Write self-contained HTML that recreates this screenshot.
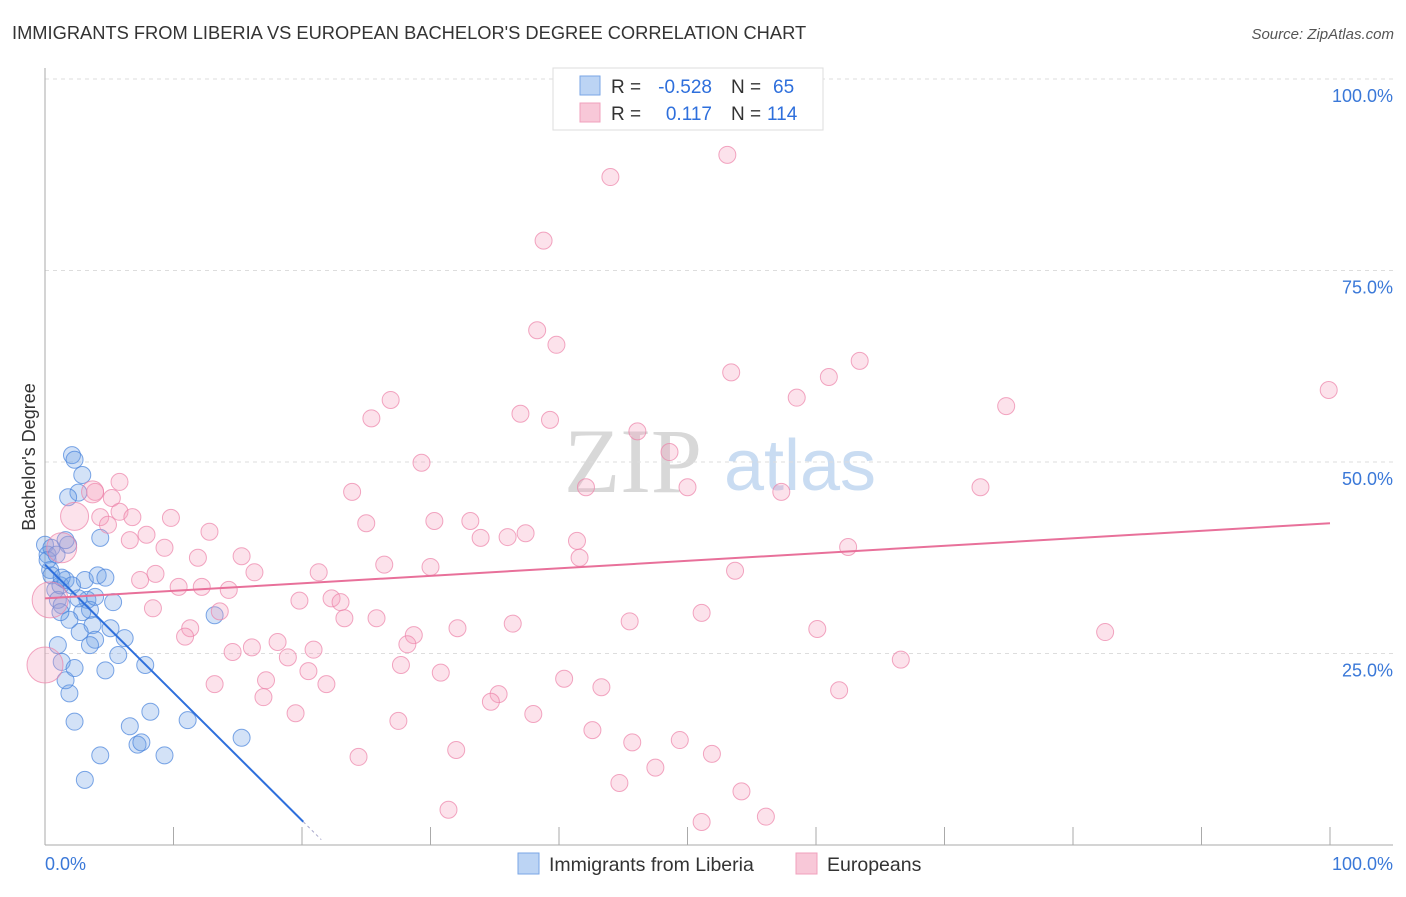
<!DOCTYPE html>
<html><head><meta charset="utf-8"><style>
body{margin:0;background:#fff;font-family:"Liberation Sans",sans-serif;}
svg text{font-family:"Liberation Sans",sans-serif;}
</style></head><body>
<svg width="1406" height="892" xmlns="http://www.w3.org/2000/svg" id="chart">
<text x="12" y="39" font-size="18.3" fill="#333">IMMIGRANTS FROM LIBERIA VS EUROPEAN BACHELOR'S DEGREE CORRELATION CHART</text>
<text x="1394" y="39" font-size="15" fill="#555" text-anchor="end" font-style="italic">Source: ZipAtlas.com</text>
<g>
<text x="633" y="492" font-size="92" fill="#d8d8d8" text-anchor="middle" font-family="Liberation Serif" style="font-family:'Liberation Serif',serif">ZIP</text>
<text x="800" y="490" font-size="72" fill="#c9dcf2" text-anchor="middle">atlas</text>
</g>
<g id="grid"></g>
<g id="axes"></g>
<g id="blue"></g>
<g id="pink"></g>
<g id="lines"></g>
<text x="35" y="457" font-size="18" fill="#333" text-anchor="middle" transform="rotate(-90 35 457)">Bachelor's Degree</text>
<g>
<rect x="553" y="68" width="270" height="62" fill="#fff" stroke="#ddd"/>
<rect x="580" y="76" width="20" height="19" fill="#bcd4f4" stroke="#7aa6e6"/>
<rect x="580" y="103" width="20" height="19" fill="#f8c8d8" stroke="#f0a0bd"/>
<text x="611" y="93" font-size="19" fill="#333">R =</text>
<text x="712" y="93" font-size="19" fill="#2e6fdc" text-anchor="end">-0.528</text>
<text x="731" y="93" font-size="19" fill="#333">N =</text>
<text x="773" y="93" font-size="19" fill="#2e6fdc">65</text>
<text x="611" y="120" font-size="19" fill="#333">R =</text>
<text x="712" y="120" font-size="19" fill="#2e6fdc" text-anchor="end">0.117</text>
<text x="731" y="120" font-size="19" fill="#333">N =</text>
<text x="767" y="120" font-size="19" fill="#2e6fdc">114</text>
</g>
<g>
<rect x="518" y="853" width="21" height="21" fill="#bcd4f4" stroke="#7aa6e6"/>
<text x="549" y="871" font-size="19.5" fill="#333">Immigrants from Liberia</text>
<rect x="796" y="853" width="21" height="21" fill="#f8c8d8" stroke="#f0a0bd"/>
<text x="827" y="871" font-size="19.5" fill="#333">Europeans</text>
</g>
</svg>
<script>
const yTicks=[25,50,75,100];
const yTickLabels=["25.0%","50.0%","75.0%","100.0%"];
const xTickLabels=["0.0%","100.0%"];
const blueX=[0,0.2,0.4,0.5,0.8,1.0,1.2,1.3,1.6,1.8,2.1,2.3,2.6,2.9,3.1,3.3,3.5,3.7,3.9,4.1,4.3,4.7,5.1,5.3,5.7,6.2,6.6,7.2,7.5,7.8,8.2,9.3,11.1,13.2,15.3,4.3,3.1,2.3,1.9,1.6,1.3,1.0,2.7,2.3,3.5,4.7,2.9,1.9,1.2,0.2,0.5,3.9,1.3,2.1,2.6,1.6,0.9,1.8];
const blueY=[39.2,37.9,35.9,35.2,33.3,32.0,33.9,31.3,34.6,39.2,50.9,50.3,46.0,48.3,34.6,32.0,30.7,28.7,26.8,35.2,40.1,34.9,28.3,31.7,24.8,27.0,15.5,13.1,13.4,23.5,17.4,11.7,16.3,30.0,14.0,11.7,8.5,16.1,19.8,21.5,23.9,26.1,27.8,23.1,26.1,22.8,30.4,29.4,30.4,37.2,38.8,32.4,34.9,33.9,32.2,39.8,37.9,45.4];
const pinkX=[53.1,44.0,38.8,38.3,39.8,63.4,53.4,61.0,99.9,58.5,26.9,74.8,37.0,25.4,39.3,46.1,48.6,29.3,42.1,50.0,57.3,72.8,23.9,3.9,5.8,5.2,5.8,4.3,6.8,9.8,4.9,12.8,25.0,30.3,33.1,33.9,36.0,37.4,41.4,62.5,7.9,9.3,6.6,41.6,15.3,11.9,26.4,30.0,53.7,16.3,21.3,8.6,7.4,10.4,12.2,14.3,22.3,23.0,19.8,8.4,13.6,51.1,45.5,23.3,25.8,36.4,32.1,11.3,60.1,82.5,10.9,28.7,28.2,18.1,16.1,14.6,20.9,18.9,27.7,30.8,20.5,17.2,13.2,21.9,40.4,43.3,61.8,66.6,35.3,34.7,17.0,38.0,19.5,27.5,42.6,45.7,49.4,51.9,32.0,24.4,47.5,44.7,54.2,31.4,51.1,56.1,2.3,1.3,0.4,0,3.7];
const pinkY=[90.1,87.2,78.9,67.2,65.3,63.2,61.7,61.1,59.4,58.4,58.1,57.3,56.3,55.7,55.5,54.0,51.3,49.9,46.7,46.7,46.1,46.7,46.1,46.1,47.4,45.3,43.5,42.8,42.8,42.7,41.8,40.9,42.0,42.3,42.3,40.1,40.2,40.7,39.7,38.9,40.5,38.8,39.8,37.5,37.7,37.5,36.6,36.3,35.8,35.6,35.6,35.4,34.6,33.7,33.7,33.3,32.2,31.7,31.9,30.9,30.5,30.3,29.2,29.6,29.6,28.9,28.3,28.3,28.2,27.8,27.2,27.4,26.2,26.5,25.8,25.2,25.5,24.5,23.5,22.5,22.7,21.5,21.0,21.0,21.7,20.6,20.2,24.2,19.7,18.7,19.3,17.1,17.2,16.2,15.0,13.4,13.7,11.9,12.4,11.5,10.1,8.1,7.0,4.6,3.0,3.7,42.9,38.8,32.0,23.5,46.1];
const pinkR=[];pinkX.forEach((_,i)=>pinkR.push(i>=pinkX.length-5?[14,15,18,18,11][i-(pinkX.length-5)]:8.5));
const blueTrend=[36.6,-1.67];
const pinkTrend=[32.2,0.098];
const X0=45,X1=1330,Y0=845,Y100=79;
const sx=v=>X0+(X1-X0)*v/100, sy=v=>Y0-(Y0-Y100)*v/100;
const NS="http://www.w3.org/2000/svg";
function mk(tag,attrs,parent){const e=document.createElementNS(NS,tag);for(const k in attrs)e.setAttribute(k,attrs[k]);parent.appendChild(e);return e;}
const grid=document.getElementById('grid'),axes=document.getElementById('axes');
yTicks.forEach((t,i)=>{
 const g=mk('line',{x1:45,x2:1393,y1:sy(t),y2:sy(t),stroke:'#ddd','stroke-dasharray':'4 4'},grid);
 
 
 const l=mk('text',{x:1393,y:sy(t)+23,'font-size':18,fill:'#3a78d8','text-anchor':'end'},axes);l.textContent=yTickLabels[i];
 
 
});
mk('line',{x1:45,x2:45,y1:68,y2:845,stroke:'#aaa'},axes);
mk('line',{x1:45,x2:1393,y1:845,y2:845,stroke:'#aaa'},axes);
for(let k=1;k<=10;k++){const t=mk('line',{x1:sx(k*10),x2:sx(k*10),y1:827,y2:845,stroke:'#aaa'},axes);
 
 }
const xl0=mk('text',{x:45,y:870,'font-size':18,fill:'#3a78d8'},axes);xl0.textContent=xTickLabels[0];


const xl1=mk('text',{x:1393,y:870,'font-size':18,fill:'#3a78d8','text-anchor':'end'},axes);xl1.textContent=xTickLabels[1];


const bg=document.getElementById('blue'),pg=document.getElementById('pink');
pinkX.forEach((x,i)=>{const c=mk('circle',{cx:sx(x),cy:sy(pinkY[i]),r:pinkR[i],fill:'rgba(244,160,190,0.3)',stroke:'rgba(236,130,168,0.7)','stroke-width':1},pg);
 
 });
blueX.forEach((x,i)=>{const c=mk('circle',{cx:sx(x),cy:sy(blueY[i]),r:8.5,fill:'rgba(110,160,230,0.3)',stroke:'rgba(70,130,220,0.7)','stroke-width':1},bg);
 
 });
const lg=document.getElementById('lines');
const bl=mk('line',{x1:sx(0),y1:sy(blueTrend[0]),x2:sx(20.1),y2:sy(blueTrend[0]+blueTrend[1]*20.1),stroke:'#2e6fdc','stroke-width':2},lg);


const bd=mk('line',{x1:sx(20.1),y1:sy(blueTrend[0]+blueTrend[1]*20.1),x2:sx(21.5),y2:sy(blueTrend[0]+blueTrend[1]*21.5),stroke:'#aac','stroke-width':1,'stroke-dasharray':'3 3'},lg);


const pl=mk('line',{x1:sx(0),y1:sy(pinkTrend[0]),x2:sx(100),y2:sy(pinkTrend[0]+pinkTrend[1]*100),stroke:'#e8709a','stroke-width':2},lg);


</script>
</body></html>
